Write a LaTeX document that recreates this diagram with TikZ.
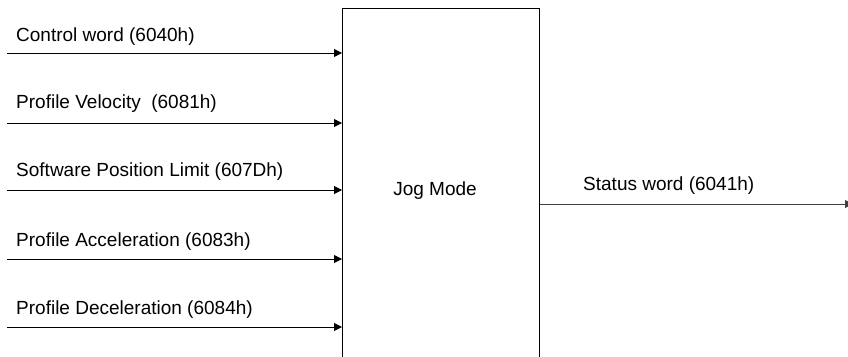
\documentclass[tikz,border=0pt]{standalone}
\usepackage{fontspec}
\setmainfont{Liberation Sans}
\usetikzlibrary{arrows.meta}
\begin{document}
\begin{tikzpicture}[x=1pt,y=-1pt,
  lbl/.style={anchor=west,inner sep=0pt,font=\fontsize{19}{22}\selectfont},
  inarrow/.style={line width=1pt,-{Triangle[length=8pt,width=8pt]}},
  outline/.style={line width=1pt,draw=black!75},
  blockbox/.style={draw,line width=1.4pt,anchor=north west,minimum width=197pt,minimum height=356pt,inner sep=0pt}]
\useasboundingbox (0,0) rectangle (848,356);
\clip (0,0) rectangle (848,356);
\node[blockbox] (jog) at (342,8) {};
\node[font=\fontsize{19}{22}\selectfont,inner sep=0pt] (jogl) at (435,191) {Jog Mode};
\coordinate (i1) at (7,53);
\coordinate (i2) at (7,123);
\coordinate (i3) at (7,190);
\coordinate (i4) at (7,259);
\coordinate (i5) at (7,327);
\coordinate (o1) at (853,204);
\draw[inarrow] (i1) -- (i1 -| jog.west);
\draw[inarrow] (i2) -- (i2 -| jog.west);
\draw[inarrow] (i3) -- (i3 -| jog.west);
\draw[inarrow] (i4) -- (i4 -| jog.west);
\draw[inarrow] (i5) -- (i5 -| jog.west);
\draw[outline,-{Triangle[length=8pt,width=8pt]}] (o1 -| jog.east) -- (o1);
\node[lbl] (t1) at (16,37) {Control word (6040h)};
\node[lbl] (t2) at (16,104) {Profile Velocity~ (6081h)};
\node[lbl] (t3) at (16,172) {Software Position Limit (607Dh)};
\node[lbl] (t4) at (16,242) {Profile Acceleration (6083h)};
\node[lbl] (t5) at (16,310) {Profile Deceleration (6084h)};
\node[lbl] (t6) at (583,186) {Status word (6041h)};
\end{tikzpicture}
\end{document}
